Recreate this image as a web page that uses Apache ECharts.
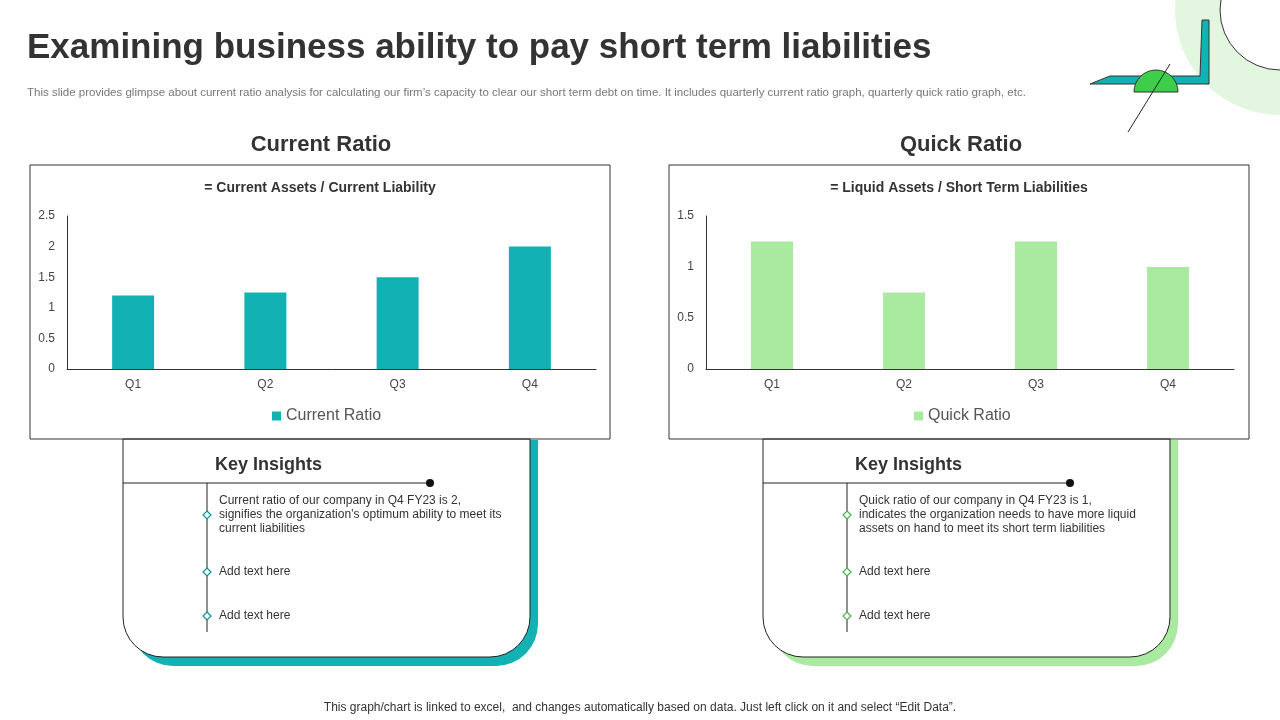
<!DOCTYPE html>
<html><head><meta charset="utf-8">
<script src="https://cdn.jsdelivr.net/npm/echarts@6/dist/echarts.min.js"></script>
<style>html,body{margin:0;padding:0;background:#fff}#c{width:1280px;height:720px}</style>
</head><body><div id="c"></div>
<script>
const quarters = ['Q1', 'Q2', 'Q3', 'Q4']
const currentRatio = [1.2, 1.25, 1.5, 2]
const quickRatio = [1.25, 0.75, 1.25, 1]
const teal = '#12b2b4'
const lgreen = '#a9eaa0'
const font = 'Arial, Liberation Sans, sans-serif'

const chart = echarts.init(document.getElementById('c'), null, { renderer: 'canvas' })

// insight panel with offset shadow, drawn from graphics
let panel = (x, color, lines) => {
    let els = []
    els.push({ type: 'rect', shape: { x: x + 8, y: 440, width: 407, height: 226, r: [0, 0, 42, 42] }, style: { fill: color }, z: 1 })
    els.push({ type: 'rect', shape: { x: x, y: 439, width: 407, height: 218, r: [0, 0, 40, 40] }, style: { fill: '#fff', stroke: '#222', lineWidth: 1 }, z: 2 })
    els.push({ type: 'text', x: x + 92, y: 465, style: { text: 'Key Insights', font: 'bold 18px ' + font, fill: '#333', textVerticalAlign: 'middle' }, z: 3 })
    els.push({ type: 'line', shape: { x1: x, y1: 483, x2: x + 307, y2: 483 }, style: { stroke: '#222', lineWidth: 1 }, z: 3 })
    els.push({ type: 'circle', shape: { cx: x + 307, cy: 483, r: 4 }, style: { fill: '#111' }, z: 3 })
    els.push({ type: 'line', shape: { x1: x + 84, y1: 483, x2: x + 84, y2: 632 }, style: { stroke: '#222', lineWidth: 1 }, z: 3 })
    const ys = [515, 572, 616]
    ys.forEach((y, i) => {
        els.push({ type: 'polygon', shape: { points: [[x + 84, y - 4], [x + 88, y], [x + 84, y + 4], [x + 80, y]] }, style: { fill: '#fff', stroke: color === teal ? '#0e8f91' : '#4caf50', lineWidth: 1.2 }, z: 4 })
    })
    els.push({ type: 'text', x: x + 96, y: 494, style: { text: lines, font: '12px ' + font, fill: '#333', lineHeight: 14 }, z: 3 })
    els.push({ type: 'text', x: x + 96, y: 572, style: { text: 'Add text here', font: '12px ' + font, fill: '#333', textVerticalAlign: 'middle' }, z: 3 })
    els.push({ type: 'text', x: x + 96, y: 616, style: { text: 'Add text here', font: '12px ' + font, fill: '#333', textVerticalAlign: 'middle' }, z: 3 })
    return els
}

let graphics = [
    { type: 'circle', shape: { cx: 1280, cy: 10, r: 105 }, style: { fill: '#e3f7e0' }, z: 0 },
    { type: 'circle', shape: { cx: 1280, cy: 10, r: 60 }, style: { fill: '#fff', stroke: '#333', lineWidth: 1 }, z: 0 },
    { type: 'polygon', shape: { points: [[1090, 84], [1110, 76], [1200, 76], [1202, 20], [1209, 20], [1209, 84]] }, style: { fill: teal, stroke: '#333', lineWidth: 1 }, z: 1 },
    { type: 'sector', shape: { cx: 1156, cy: 92, r0: 0, r: 22, startAngle: Math.PI, endAngle: 2 * Math.PI }, style: { fill: '#3ecf4a', stroke: '#333' }, z: 1 },
    { type: 'line', shape: { x1: 1128, y1: 132, x2: 1170, y2: 64 }, style: { stroke: '#222', lineWidth: 1 }, z: 2 },
    { type: 'text', x: 27, y: 48, style: { text: 'Examining business ability to pay short term liabilities', font: 'bold 35px ' + font, fill: '#333', textVerticalAlign: 'middle' } },
    { type: 'text', x: 27, y: 93, style: { text: 'This slide provides glimpse about current ratio analysis for calculating our firm\u2019s capacity to clear our short term debt on time. It includes quarterly current ratio graph, quarterly quick ratio graph, etc.', font: '11.5px ' + font, fill: '#777', textVerticalAlign: 'middle' } },
    { type: 'text', x: 321, y: 145, style: { text: 'Current Ratio', font: 'bold 22px ' + font, fill: '#333', textAlign: 'center', textVerticalAlign: 'middle' } },
    { type: 'text', x: 961, y: 145, style: { text: 'Quick Ratio', font: 'bold 22px ' + font, fill: '#333', textAlign: 'center', textVerticalAlign: 'middle' } },
    { type: 'rect', shape: { x: 30, y: 165, width: 580, height: 274 }, style: { fill: 'none', stroke: '#333', lineWidth: 1 }, z: 5 },
    { type: 'rect', shape: { x: 669, y: 165, width: 580, height: 274 }, style: { fill: 'none', stroke: '#333', lineWidth: 1 }, z: 5 },
    { type: 'text', x: 320, y: 188, style: { text: '= Current Assets / Current Liability', font: 'bold 14px ' + font, fill: '#333', textAlign: 'center', textVerticalAlign: 'middle' }, z: 6 },
    { type: 'text', x: 959, y: 188, style: { text: '= Liquid Assets / Short Term Liabilities', font: 'bold 14px ' + font, fill: '#333', textAlign: 'center', textVerticalAlign: 'middle' }, z: 6 },
    { type: 'text', x: 640, y: 708, style: { text: 'This graph/chart is linked to excel,  and changes automatically based on data. Just left click on it and select \u201cEdit Data\u201d.', font: '12px ' + font, fill: '#333', textAlign: 'center', textVerticalAlign: 'middle' } }
].concat(panel(123, teal, 'Current ratio of our company in Q4 FY23 is 2,\nsignifies the organization\u2019s optimum ability to meet its\ncurrent liabilities'))
 .concat(panel(763, lgreen, 'Quick ratio of our company in Q4 FY23 is 1,\nindicates the organization needs to have more liquid\nassets on hand to meet its short term liabilities'))

let yAxisStyle = {
    type: 'value', min: 0,
    axisLine: { show: true, lineStyle: { color: '#333' } },
    axisTick: { show: false },
    splitLine: { show: false },
    axisLabel: { color: '#444', fontSize: 12, fontFamily: font, margin: 12 }
}
let xAxisStyle = {
    type: 'category', data: quarters,
    axisLine: { lineStyle: { color: '#333' } },
    axisTick: { show: false },
    axisLabel: { color: '#444', fontSize: 12, fontFamily: font, margin: 10 }
}

let option = {
    animation: false,
    graphic: graphics,
    legend: [
        { data: ['Current Ratio'], left: 267, top: 403, icon: 'rect', itemWidth: 9, itemHeight: 9, textStyle: { fontSize: 16, color: '#555', fontFamily: font }, z: 10 },
        { data: ['Quick Ratio'], left: 909, top: 403, icon: 'rect', itemWidth: 9, itemHeight: 9, textStyle: { fontSize: 16, color: '#555', fontFamily: font }, z: 10 }
    ],
    grid: [
        { left: 67, top: 216, width: 529, height: 153, z: 10 },
        { left: 706, top: 216, width: 528, height: 153, z: 10 }
    ],
    xAxis: [
        Object.assign({ gridIndex: 0 }, xAxisStyle),
        Object.assign({ gridIndex: 1 }, xAxisStyle)
    ],
    yAxis: [
        Object.assign({ gridIndex: 0, max: 2.5, interval: 0.5 }, yAxisStyle),
        Object.assign({ gridIndex: 1, max: 1.5, interval: 0.5 }, yAxisStyle)
    ],
    series: [
        { name: 'Current Ratio', type: 'bar', xAxisIndex: 0, yAxisIndex: 0, data: currentRatio, barWidth: 42, itemStyle: { color: teal }, z: 10 },
        { name: 'Quick Ratio', type: 'bar', xAxisIndex: 1, yAxisIndex: 1, data: quickRatio, barWidth: 42, itemStyle: { color: lgreen }, z: 10 }
    ]
}

chart.setOption(option)
</script>
</body></html>
